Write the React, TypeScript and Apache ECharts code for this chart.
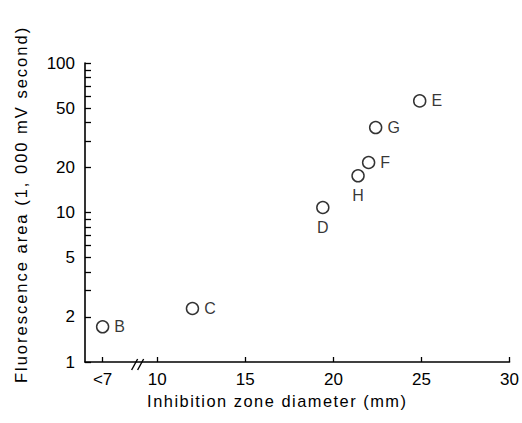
import React, { useEffect, useRef } from 'react';
import * as echarts from 'echarts';

const pointNames = ['B', 'C', 'D', 'H', 'F', 'G', 'E'];
const zoneDiameter = [6.9, 12, 19.4, 21.4, 22, 22.4, 24.9];
const fluorescenceArea = [1.72, 2.28, 10.8, 17.6, 21.6, 37, 55.8];
const labelSides = ['right', 'right', 'bottom', 'bottom', 'right', 'right', 'right'];
const xTickValues = [6.9, 10, 15, 20, 25, 30];
const xTickLabels = ['<7', '10', '15', '20', '25', '30'];
const yLabelValues = [1, 2, 5, 10, 20, 50, 100];
const yTickValues = [1, 2, 3, 4, 5, 6, 7, 8, 9, 10, 20, 30, 40, 50, 60, 70, 80, 90, 100];
const breakAt = 9;

const FONT = 'Liberation Sans';

export default function App() {
  const ref = useRef<HTMLDivElement>(null);
  useEffect(() => {
    if (!ref.current) return;
    const chart = echarts.init(ref.current, undefined, { renderer: 'svg' });
    const option: any = {
      animation: false,
      backgroundColor: '#ffffff',
      grid: { left: 85, right: 12, top: 63, bottom: 61, containLabel: false },
      xAxis: {
        type: 'value',
        min: 5.9,
        max: 30,
        name: 'Inhibition zone diameter (mm)',
        nameLocation: 'middle',
        nameGap: 30,
        nameTextStyle: { fontFamily: FONT, fontSize: 16.4, color: '#000', padding: [0, 40, 0, 0] },
        axisLine: { show: true, lineStyle: { color: '#000', width: 1.6 } },
        axisTick: { show: true, inside: true, length: 5, customValues: xTickValues, lineStyle: { color: '#000', width: 1.3 } },
        axisLabel: {
          show: true,
          customValues: xTickValues,
          margin: 9,
          fontFamily: FONT,
          fontSize: 17,
          color: '#000',
          formatter: (v: number) => {
            const i = xTickValues.findIndex((t) => Math.abs(t - v) < 1e-6);
            return i >= 0 ? xTickLabels[i] : '';
          },
        },
        splitLine: { show: false },
      },
      yAxis: {
        type: 'log',
        logBase: 10,
        min: 1,
        max: 100,
        name: 'Fluorescence area (1, 000 mV second)',
        nameLocation: 'middle',
        nameRotate: 90,
        nameGap: 56,
        nameTextStyle: { fontFamily: FONT, fontSize: 16.5, color: '#000', padding: [0, 0, 0, 16] },
        axisLine: { show: true, lineStyle: { color: '#000', width: 1.6 } },
        axisTick: { show: true, inside: true, length: 6, customValues: yTickValues, lineStyle: { color: '#000', width: 1.3 } },
        axisLabel: {
          show: true,
          customValues: yLabelValues,
          margin: 10,
          fontFamily: FONT,
          fontSize: 17,
          color: '#000',
          formatter: (v: number) => String(Math.round(v)),
        },
        splitLine: { show: false },
      },
      series: [
        {
          type: 'scatter',
          symbol: 'circle',
          symbolSize: 12,
          itemStyle: { color: '#ffffff', borderColor: '#000', borderWidth: 1.5 },
          data: pointNames.map((n, i) => ({
            name: n,
            value: [zoneDiameter[i], fluorescenceArea[i]],
            label: {
              show: true,
              position: labelSides[i],
              distance: 5,
              formatter: n,
              fontFamily: FONT,
              fontSize: 16,
              color: '#000',
            },
          })),
        },
      ],
    };
    chart.setOption(option);
    const p = chart.convertToPixel({ xAxisIndex: 0, yAxisIndex: 0 } as any, [breakAt, 1]) as number[];
    if (p && p.length === 2) {
      const x = p[0];
      const y = p[1];
      chart.setOption({
        graphic: [
          { type: 'line', shape: { x1: x - 8, y1: y + 8, x2: x - 2, y2: y - 3 }, style: { stroke: '#000', lineWidth: 1.4 } },
          { type: 'line', shape: { x1: x - 2, y1: y + 8, x2: x + 4, y2: y - 3 }, style: { stroke: '#000', lineWidth: 1.4 } },
        ],
      });
    }
    return () => chart.dispose();
  }, []);
  return (
    <>
      <style>{`.ref-chart text[style*="16.5px"] { letter-spacing: 2px; } .ref-chart text[style*="16.4px"] { letter-spacing: 1.5px; }`}</style>
      <div className="ref-chart" ref={ref} style={{ position: 'fixed', left: 0, top: 0, width: 522, height: 423 }} />
    </>
  );
}
